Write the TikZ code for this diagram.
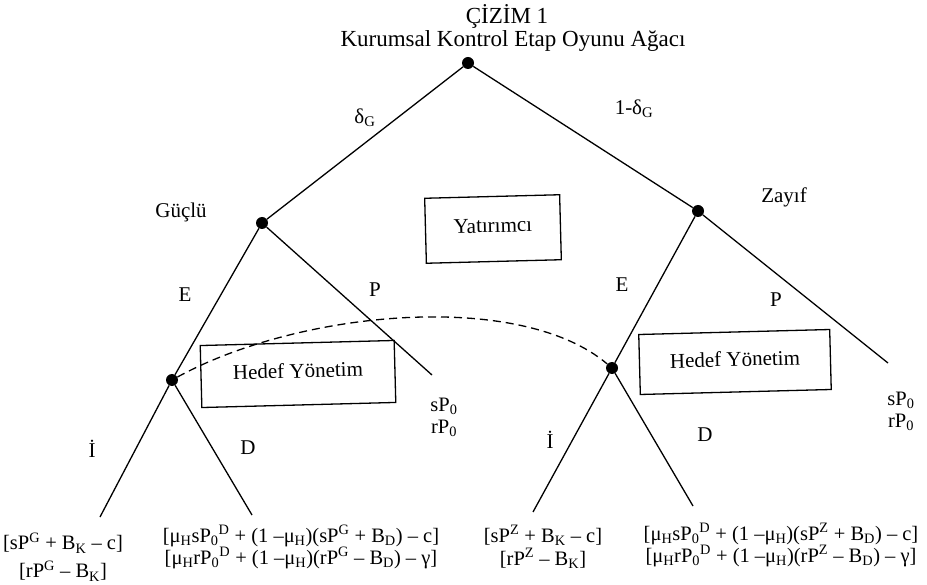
\documentclass[tikz,border=0pt]{standalone}
\usepackage{fontspec}
\setmainfont{Liberation Serif}
\begin{document}
\begin{tikzpicture}[x=1pt,y=-1pt,
  dot/.style={circle,fill=black,inner sep=0pt,minimum size=12pt},
  edge/.style={line width=1.3pt},
  lbl/.style={font=\fontsize{21}{23}\selectfont,inner sep=0pt},
  pay/.style={font=\fontsize{20.5}{22}\selectfont,align=center,inner sep=0pt},
  boxnode/.style={draw,line width=1.3pt,rotate=1.5,inner sep=0pt,font=\fontsize{21}{23}\selectfont}]
\useasboundingbox (0,0) rectangle (927,585);
% title
\node[font=\fontsize{23}{25}\selectfont,inner sep=0pt] (t1) at (507,16) {ÇİZİM 1};
\node[font=\fontsize{23}{25}\selectfont,inner sep=0pt] (t2) at (513,41) {Kurumsal Kontrol Etap Oyunu Ağacı};
% decision nodes
\node[dot] (r) at (468,63) {};
\node[dot] (g) at (262,223) {};
\node[dot] (z) at (698,211) {};
\node[dot] (hl) at (172,380) {};
\node[dot] (hr) at (612,368) {};
% leaf ends
\coordinate (gp) at (432,375);
\coordinate (zp) at (888,363);
\coordinate (li) at (100,517);
\coordinate (ld) at (252,515);
\coordinate (ri) at (533,512);
\coordinate (rd) at (693,506);
% edges
\draw[edge] (r) -- (g);
\draw[edge] (r) -- (z);
\draw[edge] (g) -- (hl);
\draw[edge] (g) -- (gp);
\draw[edge] (z) -- (hr);
\draw[edge] (z) -- (zp);
\draw[edge] (hl) -- (li);
\draw[edge] (hl) -- (ld);
\draw[edge] (hr) -- (ri);
\draw[edge] (hr) -- (rd);
% information set
\draw[edge,dash pattern=on 8pt off 5pt] (hl) .. controls (300,310) and (520,290) .. (hr);
% boxes
\node[boxnode,minimum width=135pt,minimum height=65pt] (yat) at (493,229) {\raisebox{7pt}{Yatırımcı}};
\node[boxnode,minimum width=194pt,minimum height=62pt] (hdl) at (298,374) {\raisebox{7pt}{Hedef Yönetim}};
\node[boxnode,minimum width=191pt,minimum height=60pt] (hdr) at (735,362) {\raisebox{6pt}{Hedef Yönetim}};
% branch labels
\node[lbl] (lg) at (181,212) {Güçlü};
\node[lbl] (lz) at (784,197) {Zayıf};
\node[lbl] (ldg) at (365,118) {δ\textsubscript{G}};
\node[lbl] (l1dg) at (634,109) {1-δ\textsubscript{G}};
\node[lbl] (le1) at (185,295) {E};
\node[lbl] (lp1) at (375,290) {P};
\node[lbl] (le2) at (622,285) {E};
\node[lbl] (lp2) at (776,300) {P};
\node[lbl] (li1) at (92,449) {İ};
\node[lbl] (ld1) at (248,448) {D};
\node[lbl] (li2) at (550,440) {İ};
\node[lbl] (ld2) at (705,435) {D};
% payoffs
\node[pay] (pgp) at (444,417) {sP\textsubscript{0}\\rP\textsubscript{0}};
\node[pay] (pzp) at (901,411) {sP\textsubscript{0}\\rP\textsubscript{0}};
\node[pay] (pli) at (63,557) {[sP\textsuperscript{G} + B\textsubscript{K} – c]\\[6pt][rP\textsuperscript{G} – B\textsubscript{K}]};
\node[pay] (pld) at (301,547) {[μ\textsubscript{H}sP\textsubscript{0}\textsuperscript{D} + (1 –μ\textsubscript{H})(sP\textsuperscript{G} + B\textsubscript{D}) – c]\\[0pt][μ\textsubscript{H}rP\textsubscript{0}\textsuperscript{D} + (1 –μ\textsubscript{H})(rP\textsuperscript{G} – B\textsubscript{D}) – γ]};
\node[pay] (pri) at (543,547) {[sP\textsuperscript{Z} + B\textsubscript{K} – c]\\[1pt][rP\textsuperscript{Z} – B\textsubscript{K}]};
\node[pay] (prd) at (781,545) {[μ\textsubscript{H}sP\textsubscript{0}\textsuperscript{D} + (1 –μ\textsubscript{H})(sP\textsuperscript{Z} + B\textsubscript{D}) – c]\\[0pt][μ\textsubscript{H}rP\textsubscript{0}\textsuperscript{D} + (1 –μ\textsubscript{H})(rP\textsuperscript{Z} – B\textsubscript{D}) – γ]};
\end{tikzpicture}
\end{document}
